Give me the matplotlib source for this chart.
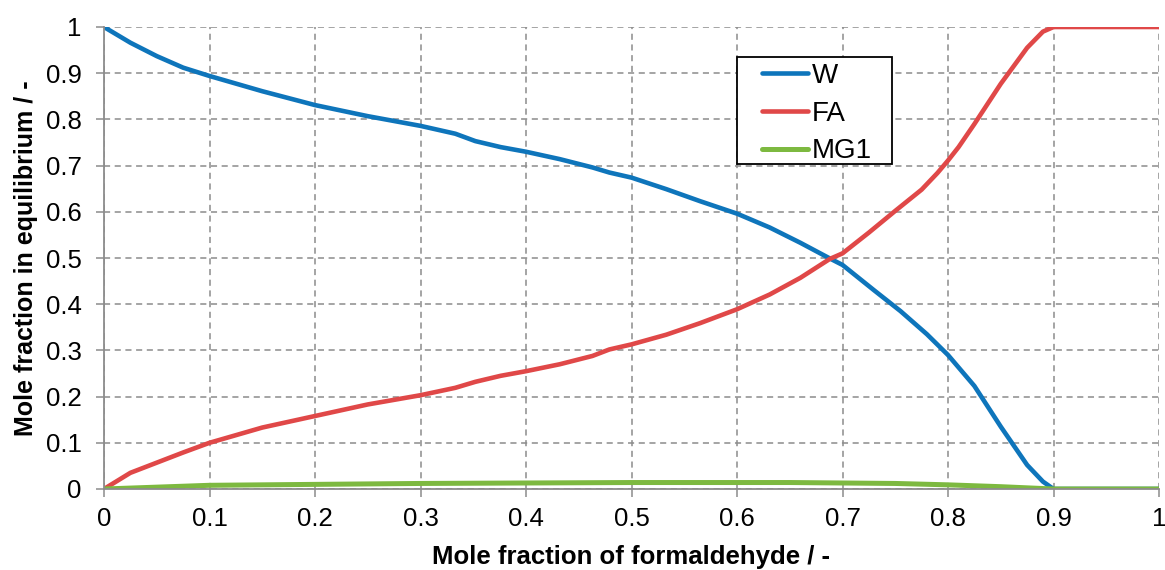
import numpy as np
import matplotlib.pyplot as plt
from matplotlib.patches import Rectangle, Shadow

plt.rcParams['font.family'] = ['Liberation Sans', 'DejaVu Sans']

x_w = [0, 0.025, 0.05, 0.075, 0.1, 0.15, 0.2, 0.25, 0.3, 0.333, 0.352, 0.376, 0.4, 0.432,
       0.463, 0.479, 0.5, 0.533, 0.565, 0.6, 0.631, 0.66, 0.688, 0.7, 0.73, 0.755, 0.78,
       0.8, 0.825, 0.85, 0.875, 0.89, 0.9, 0.95, 1.0]
w = [1.0, 0.966, 0.937, 0.912, 0.894, 0.861, 0.831, 0.807, 0.786, 0.769, 0.753, 0.740, 0.730, 0.714,
     0.696, 0.685, 0.674, 0.649, 0.623, 0.596, 0.566, 0.533, 0.499, 0.485, 0.43, 0.385, 0.335,
     0.29, 0.223, 0.135, 0.052, 0.016, 0.0, 0.0, 0.0]

x_fa = [0, 0.025, 0.05, 0.075, 0.1, 0.15, 0.2, 0.25, 0.3, 0.333, 0.352, 0.376, 0.4, 0.432,
        0.463, 0.479, 0.5, 0.533, 0.565, 0.6, 0.631, 0.66, 0.688, 0.7, 0.725, 0.75, 0.775,
        0.79, 0.8, 0.81, 0.825, 0.85, 0.875, 0.89, 0.9, 0.95, 1.0]
fa = [0.0, 0.035, 0.057, 0.079, 0.10, 0.133, 0.158, 0.183, 0.203, 0.219, 0.232, 0.245, 0.255, 0.27,
      0.288, 0.302, 0.313, 0.334, 0.359, 0.389, 0.421, 0.457, 0.498, 0.51, 0.555, 0.602, 0.648,
      0.684, 0.711, 0.74, 0.79, 0.877, 0.955, 0.99, 1.0, 1.0, 1.0]

x_mg = [0, 0.1, 0.2, 0.3, 0.4, 0.5, 0.6, 0.65, 0.7, 0.75, 0.8, 0.85, 0.9, 1.0]
mg1 = [0.0, 0.008, 0.01, 0.012, 0.013, 0.014, 0.014, 0.014, 0.013, 0.012, 0.009, 0.005, 0.0, 0.0]

ticks = np.round(np.arange(0, 1.01, 0.1), 1)
tick_labels = ['0'] + ['%.1f' % t for t in ticks[1:-1]] + ['1']

W, H = 1165, 570
fig = plt.figure(figsize=(W / 100, H / 100), dpi=100)
ax = fig.add_axes([104 / W, 1 - 489 / H, 1055 / W, 462 / H])

ax.plot(x_w, w, color='#0E75BB', lw=3.3, label='W', solid_capstyle='round', solid_joinstyle='round')
ax.plot(x_fa, fa, color='#E04848', lw=3.3, label='FA', solid_capstyle='round', solid_joinstyle='round')
ax.plot(x_mg, mg1, color='#7DB940', lw=3.6, label='MG1', solid_capstyle='round')

ax.set_xlim(0, 1)
ax.set_ylim(0, 1)
ax.set_xticks(ticks)
ax.set_yticks(ticks)
ax.set_xticklabels(tick_labels, fontsize=18.5)
ax.set_yticklabels(tick_labels, fontsize=18.5)
ax.grid(True, color='#8C8C8C', linestyle=(0, (4, 3)), linewidth=1.1)
ax.tick_params(direction='out', length=6, color='#8C8C8C', width=1.1)
ax.tick_params(axis='x', pad=7)
ax.tick_params(axis='y', pad=10)
for s in ['top', 'right']:
    ax.spines[s].set_visible(False)
for s in ['left', 'bottom']:
    ax.spines[s].set_color('#8C8C8C')
    ax.spines[s].set_linewidth(1.3)

ax.set_xlabel('Mole fraction of formaldehyde / -', fontsize=18.5, fontweight='bold', labelpad=10)
ax.set_ylabel('Mole fraction in equilibrium / -', fontsize=18, fontweight='bold', labelpad=6)

# legend box drawn by hand: wide side padding, tight top/bottom
box = Rectangle((737 / W, 1 - 164 / H), 155 / W, 107 / H, transform=fig.transFigure,
                facecolor='white', edgecolor='black', linewidth=1.3, zorder=4, clip_on=False)
shadow = Shadow(box, 3, -3)
shadow.set_facecolor('#000000')
shadow.set_alpha(0.12)
shadow.set_zorder(3.9)
shadow.set_clip_on(False)
ax.add_patch(shadow)
ax.add_patch(box)

leg = ax.legend(loc='upper left', bbox_to_anchor=(762 / W, 1 - 63 / H),
                bbox_transform=fig.transFigure, borderaxespad=0, borderpad=0,
                fontsize=20, frameon=False, handlelength=1.65, handletextpad=0.15,
                labelspacing=0.42)
leg.set_zorder(5)

fig.savefig('out.png', dpi=100)
